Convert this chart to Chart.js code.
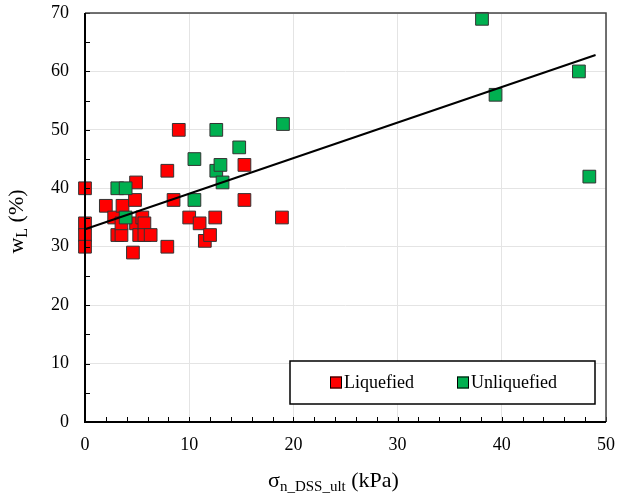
<!DOCTYPE html>
<html>
<head>
<meta charset="utf-8">
<script src="https://cdn.jsdelivr.net/npm/chart.js@4"></script>
<style>
  html, body { margin: 0; padding: 0; background: #fff; }
</style>
</head>
<body>
<canvas id="chart" width="622" height="493"></canvas>
<script>
// liquefied sites: normal stress (kPa) vs liquid limit (%)
const liqX = [0, 0, 0, 0, 2.0, 2.8, 3.1, 3.5, 3.5, 3.6, 4.6, 4.8, 4.9, 4.9, 5.2, 5.5, 5.7, 5.7, 6.3, 7.9, 7.9, 8.5, 9.0, 10.0, 11.0, 11.5, 12.0, 12.5, 15.3, 15.3, 18.9];
const liqY = [40, 34, 32, 30, 37, 35, 32, 32, 34, 37, 29, 38, 41, 34, 32, 35, 34, 32, 32, 43, 30, 38, 50, 35, 34, 31, 32, 35, 44, 38, 35];

// unliquefied sites
const unliqX = [3.1, 3.9, 3.9, 10.5, 10.5, 12.6, 12.6, 13.0, 13.2, 14.8, 19.0, 38.1, 39.4, 47.4, 48.4];
const unliqY = [40, 40, 35, 45, 38, 50, 43, 44, 41, 47, 51, 69, 56, 60, 42];

// linear trend line end points
const fitX = [0, 49];
const fitY = [33.0, 62.8];

const xTicks = [0, 10, 20, 30, 40, 50];
const yTicks = [0, 10, 20, 30, 40, 50, 60, 70];

const seriesNames = ["Liquefied", "Unliquefied"];
const RED = "#ff0000";
const GREEN = "#00b050";
const EDGE = "#333";
const SERIF = "'Liberation Serif', 'Times New Roman', serif";

const pts = (xs, ys) => xs.map((x, i) => ({ x: x, y: ys[i] }));

// frame, inward tick marks, legend box and axis titles with subscripts
const decor = {
  id: "decor",
  afterDraw(chart) {
    const { ctx, chartArea: a, scales: { x, y } } = chart;
    ctx.save();

    // tick marks pointing into the plot
    ctx.strokeStyle = "#000";
    ctx.lineWidth = 1;
    ctx.beginPath();
    for (let v = 0; v <= 50; v += 2) {
      const px = Math.round(x.getPixelForValue(v)) + 0.5;
      ctx.moveTo(px, a.bottom);
      ctx.lineTo(px, a.bottom - 5);
    }
    for (let v = 0; v <= 70; v += 5) {
      const py = Math.round(y.getPixelForValue(v)) + 0.5;
      ctx.moveTo(a.left, py);
      ctx.lineTo(a.left + 5, py);
    }
    ctx.stroke();

    // plot frame
    ctx.strokeStyle = "#444";
    ctx.lineWidth = 1.5;
    ctx.beginPath();
    ctx.moveTo(a.left, a.top);
    ctx.lineTo(a.right, a.top);
    ctx.lineTo(a.right, a.bottom);
    ctx.stroke();
    ctx.strokeStyle = "#000";
    ctx.lineWidth = 2;
    ctx.beginPath();
    ctx.moveTo(a.left, a.top);
    ctx.lineTo(a.left, a.bottom);
    ctx.lineTo(a.right, a.bottom);
    ctx.stroke();

    // legend
    const lx = 290, ly = 361, lw = 305, lh = 43;
    ctx.fillStyle = "#fff";
    ctx.fillRect(lx, ly, lw, lh);
    ctx.strokeStyle = "#000";
    ctx.lineWidth = 1.5;
    ctx.strokeRect(lx, ly, lw, lh);
    const cy = ly + lh / 2;
    const items = [[330, RED, seriesNames[0]], [457, GREEN, seriesNames[1]]];
    ctx.font = "18px " + SERIF;
    ctx.textBaseline = "middle";
    ctx.textAlign = "left";
    items.forEach(([sx, col, name]) => {
      ctx.fillStyle = col;
      ctx.fillRect(sx, cy - 6, 12, 12);
      ctx.strokeStyle = "#000";
      ctx.lineWidth = 1;
      ctx.strokeRect(sx + 0.5, cy - 5.5, 11, 11);
      ctx.fillStyle = "#000";
      ctx.fillText(name, sx + 14, cy + 1);
    });

    // x axis title: sigma with subscript
    ctx.textBaseline = "alphabetic";
    const mainFont = "22px " + SERIF;
    const subFont = "15px " + SERIF;
    const parts = [["σ", mainFont, 0], ["n_DSS_ult", subFont, 4], [" (kPa)", mainFont, 0]];
    let total = 0;
    parts.forEach(p => { ctx.font = p[1]; total += ctx.measureText(p[0]).width; });
    let tx = (a.left + a.right) / 2 - total / 2 - 12;
    const base = 487;
    parts.forEach(p => {
      ctx.font = p[1];
      ctx.fillText(p[0], tx, base + p[2]);
      tx += ctx.measureText(p[0]).width;
    });

    // y axis title: w with subscript L, rotated
    ctx.translate(23, (a.top + a.bottom) / 2 + 4);
    ctx.rotate(-Math.PI / 2);
    const yparts = [["w", mainFont, 0], ["L", "16px " + SERIF, 4], [" (%)", mainFont, 0]];
    total = 0;
    yparts.forEach(p => { ctx.font = p[1]; total += ctx.measureText(p[0]).width; });
    tx = -total / 2;
    yparts.forEach(p => {
      ctx.font = p[1];
      ctx.fillText(p[0], tx, p[2]);
      tx += ctx.measureText(p[0]).width;
    });

    ctx.restore();
  }
};

new Chart(document.getElementById("chart"), {
  type: "scatter",
  data: {
    datasets: [
      {
        type: "line",
        label: "trend",
        data: pts(fitX, fitY),
        borderColor: "#000",
        borderWidth: 2,
        pointRadius: 0,
        fill: false,
        clip: false,
        order: 0
      },
      {
        label: seriesNames[1],
        data: pts(unliqX, unliqY),
        pointStyle: "rect",
        pointRadius: 9,
        backgroundColor: GREEN,
        borderColor: EDGE,
        borderWidth: 1,
        clip: false,
        order: 1
      },
      {
        label: seriesNames[0],
        data: pts(liqX, liqY),
        pointStyle: "rect",
        pointRadius: 9,
        backgroundColor: RED,
        borderColor: EDGE,
        borderWidth: 1,
        clip: false,
        order: 2
      }
    ]
  },
  options: {
    responsive: false,
    animation: false,
    layout: { padding: { top: 13, right: 16, left: 0, bottom: 0 } },
    plugins: {
      legend: { display: false },
      tooltip: { enabled: false }
    },
    scales: {
      x: {
        type: "linear",
        min: 0,
        max: 50,
        afterBuildTicks: s => { s.ticks = xTicks.map(v => ({ value: v })); },
        afterFit: s => { s.height = 71; s.paddingLeft = 0; s.paddingRight = 0; },
        grid: { color: "#e4e4e4", lineWidth: 1, drawTicks: false },
        border: { display: false },
        ticks: { color: "#000", font: { family: SERIF, size: 18 }, padding: 12, maxRotation: 0 }
      },
      y: {
        type: "linear",
        min: 0,
        max: 70,
        afterBuildTicks: s => { s.ticks = yTicks.map(v => ({ value: v })); },
        afterFit: s => { s.width = 85; s.paddingTop = 0; s.paddingBottom = 0; },
        grid: { color: "#e4e4e4", lineWidth: 1, drawTicks: false },
        border: { display: false },
        ticks: { color: "#000", font: { family: SERIF, size: 18 }, padding: 16 }
      }
    }
  },
  plugins: [decor]
});
</script>
</body>
</html>
